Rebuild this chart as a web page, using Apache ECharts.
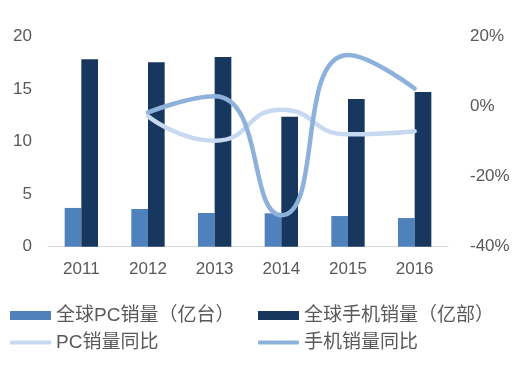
<!DOCTYPE html>
<html><head><meta charset="utf-8">
<script src="https://cdn.jsdelivr.net/npm/echarts@6/dist/echarts.min.js"></script>
<style>html,body{margin:0;padding:0;background:#fff}#c{width:514px;height:369px}</style>
</head><body><div id="c"></div>
<script>
const categories = ['2011','2012','2013','2014','2015','2016'];
const pcSales = [3.69, 3.59, 3.21, 3.18, 2.92, 2.73];
const phoneSales = [17.85, 17.56, 18.07, 12.38, 14.07, 14.73];
const pcYoY = [null, -2.7, -9.7, -0.9, -7.9, -7.0];
const phoneYoY = [null, -1.6, 3.0, -31.0, 14.8, 5.2];
const leftTicks = {min: 0, max: 20, interval: 5};
const rightTicks = {min: -40, max: 20, interval: 20};

const names = ['全球PC销量（亿台）','全球手机销量（亿部）','PC销量同比','手机销量同比'];
const colors = ['#4F81BD','#17375E','#C6D9F1','#8EB1DB'];
const font = '"Liberation Sans","Noto Sans CJK SC",sans-serif';
const txt = {color:'#595959', fontSize:17, fontFamily: font};

function lg(name, left, top, isLine){
  return {
    data:[{name:name, icon: isLine ? 'roundRect' : 'rect'}],
    left:left, top:top, padding:0, itemWidth:41, itemHeight: isLine ? 4 : 9, itemGap:0,
    textStyle:Object.assign({}, txt, {fontSize:19}),
    selectedMode:false
  };
}

const chart = echarts.init(document.getElementById('c'), null, {renderer:'canvas'});
chart.setOption({
  animation:false,
  grid:{left:48, right:66, top:36.7, bottom:122.3},
  legend:[
    lg(names[0], 10, 306, false),
    lg(names[1], 258, 306, false),
    lg(names[2], 10, 333, true),
    lg(names[3], 258, 333, true)
  ],
  xAxis:{type:'category', data:categories,
    axisLine:{lineStyle:{color:'#D9D9D9'}}, axisTick:{show:false},
    axisLabel:Object.assign({}, txt, {margin:14})},
  yAxis:[
    {type:'value', min:leftTicks.min, max:leftTicks.max, interval:leftTicks.interval,
     splitLine:{show:false}, axisLine:{show:false}, axisTick:{show:false},
     axisLabel:Object.assign({}, txt, {margin:16})},
    {type:'value', min:rightTicks.min, max:rightTicks.max, interval:rightTicks.interval,
     splitLine:{show:false}, axisLine:{show:false}, axisTick:{show:false},
     axisLabel:Object.assign({}, txt, {margin:22, formatter:'{value}%'})}
  ],
  series:[
    {name:names[0], type:'bar', data:pcSales, barWidth:'25%', barGap:'0%',
     itemStyle:{color:colors[0]}},
    {name:names[1], type:'bar', data:phoneSales, barWidth:'25%', barGap:'0%',
     itemStyle:{color:colors[1]}},
    {name:names[2], type:'line', yAxisIndex:1, data:pcYoY, smooth:0.55, showSymbol:false,
     lineStyle:{color:colors[2], width:4.5, cap:'round'}, itemStyle:{color:colors[2]}},
    {name:names[3], type:'line', yAxisIndex:1, data:phoneYoY, smooth:0.55, showSymbol:false,
     lineStyle:{color:colors[3], width:4.5, cap:'round'}, itemStyle:{color:colors[3]}}
  ]
});
</script></body></html>
